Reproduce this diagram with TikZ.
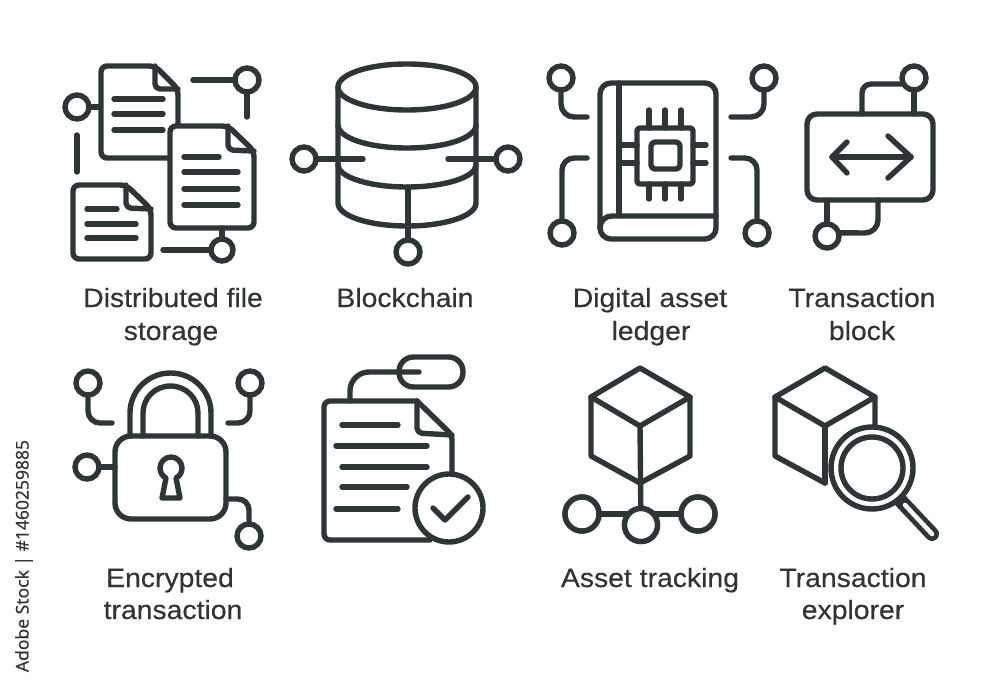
\documentclass[tikz,border=0pt]{standalone}
\usepackage{fontspec}
\setmainfont{Noto Sans}
\newfontfamily\labfont[FakeBold=0.3,FakeStretch=1.07]{Liberation Sans}
\newfontfamily\markfont[FakeBold=0.15]{Noto Sans}
\definecolor{ink}{HTML}{2E3536}
\definecolor{txt}{HTML}{303435}
\tikzset{
  ln/.style={draw=ink,line width=5.4pt,line cap=round,line join=round},
  rc/.style={ln,rounded corners=#1},
  port/.style={circle,draw=ink,line width=5.4pt,fill=white,inner sep=0pt,outer sep=0pt,minimum size=#1},
  lab/.style={text=txt,inner sep=0pt,anchor=base,font=\labfont\fontsize{26.5}{30}\selectfont},
  stockmark/.style={text=txt,inner sep=0pt,rotate=90,font=\markfont\fontsize{17.5}{20}\selectfont}
}
\begin{document}
\begin{tikzpicture}[x=1pt,y=-1pt]
\useasboundingbox (0,0) rectangle (1000,688);
\fill[white] (0,0) rectangle (1000,688);

% --- Distributed file storage
\node[port=24pt] (a1) at (77,107) {};
\node[port=24pt] (a2) at (247,80) {};
\node[port=22pt] (a3) at (222,250) {};
\draw[ln] (a1) -- (101,107);
\draw[ln] (193,80) -- (a2);
\draw[ln] (a2) -- (247,117);
\draw[ln] (77,135) -- (77,172);
\draw[rc=6pt,fill=white] (172,158) -- (101,158) -- (101,66) -- (155,66) -- (178,89) -- (178,124);
\draw[rc=5pt] (155,66) -- (155,89) -- (178,89);
\draw[ln] (114,99) -- (163,99) (114,114) -- (163,114) (114,130) -- (163,130);
\draw[rc=6pt,fill=white] (170,126) -- (228,126) -- (254,151) -- (254,228) -- (170,228) -- cycle;
\draw[rc=5pt] (228,126) -- (228,150) -- (254,151);
\draw[ln] (184,157) -- (219,157) (184,172) -- (238,172) (184,189) -- (238,189) (184,205) -- (238,205);
\draw[rc=6pt] (73,185) -- (126,185) -- (151,209) -- (151,259) -- (73,259) -- cycle;
\draw[rc=5pt] (126,185) -- (126,208) -- (151,209);
\draw[ln] (87,209) -- (117,209) (87,224) -- (136,224) (87,238) -- (136,238);
\draw[ln] (222,228) -- (a3);
\draw[ln] (163,250) -- (a3);

% --- Blockchain
\node[port=24pt] (b1) at (304,159) {};
\node[port=24pt] (b2) at (508,159) {};
\node[port=24pt] (b3) at (408,252) {};
\draw[ln] (338,87) .. controls (338,74) and (369,64) .. (407,64) .. controls (445,64) and (476,74) .. (476,87) .. controls (476,100) and (445,110) .. (407,110) .. controls (369,110) and (338,100) .. (338,87) -- cycle;
\draw[ln] (338,87) -- (338,203) .. controls (338,216) and (369,226) .. (407,226) .. controls (445,226) and (476,216) .. (476,203) -- (476,87);
\draw[ln] (338,125) .. controls (338,138) and (369,148) .. (407,148) .. controls (445,148) and (476,138) .. (476,125);
\draw[ln] (338,165) .. controls (338,177) and (369,187) .. (407,187) .. controls (445,187) and (476,177) .. (476,165);
\draw[ln] (b1) -- (363,159);
\draw[ln] (448,159) -- (b2);
\draw[ln] (408,187) -- (b3);

% --- Digital asset ledger
\node[port=24pt] (c1) at (561,78) {};
\node[port=24pt] (c2) at (764,78) {};
\node[port=24pt] (c3) at (562,233) {};
\node[port=24pt] (c4) at (757,233) {};
\draw[rc=13pt] (c1) -- (561,117) -- (587,117);
\draw[rc=13pt] (c2) -- (764,117) -- (731,117);
\draw[rc=12pt] (c3) -- (562,158) -- (587,158);
\draw[rc=12pt] (c4) -- (757,158) -- (731,158);
\draw[rc=11pt] (600,83) rectangle (716,239);
\draw[ln] (619,83) -- (619,216);
\draw[ln] (716,216) -- (612,216) .. controls (605,216) and (600,221) .. (600,228);
\draw[rc=3pt] (637,128) rectangle (693,184);
\draw[rc=4pt] (651,142) rectangle (680,169);
\draw[ln] (649,128) -- (649,110) (665,128) -- (665,110) (681,128) -- (681,110);
\draw[ln] (649,184) -- (649,199) (665,184) -- (665,199) (681,184) -- (681,199);
\draw[ln] (619,145) -- (637,145) (619,163) -- (637,163);
\draw[ln] (693,145) -- (706,145) (693,163) -- (706,163);

% --- Transaction block
\node[port=24pt] (d1) at (914,78) {};
\node[port=24pt] (d2) at (827,236) {};
\draw[rc=10pt] (807,114) rectangle (933,200);
\draw[ln] (d1) -- (914,114);
\draw[rc=9pt] (d1.210) -- (862,84) -- (862,114);
\draw[ln] (827,200) -- (d2);
\draw[rc=13pt] (d2.15) -- (878,233) -- (878,200);
\draw[ln] (832,157) -- (911,157);
\draw[ln] (847,142) -- (832,157) -- (847,173);
\draw[ln] (888,136) -- (911,157) -- (888,178);

% --- Encrypted transaction
\node[port=24pt] (e1) at (88,383) {};
\node[port=24pt] (e2) at (250,383) {};
\node[port=24pt] (e3) at (87,467) {};
\node[port=24pt] (e4) at (249,536) {};
\draw[ln] (130,436) -- (130,413) .. controls (130,391) and (148,373) .. (170.5,373) .. controls (193,373) and (211,391) .. (211,413) -- (211,436);
\draw[ln] (143,436) -- (143,413) .. controls (143,398) and (155,386) .. (170.5,386) .. controls (186,386) and (198,398) .. (198,413) -- (198,436);
\draw[rc=16pt] (115,436) rectangle (226,519);
\draw[ln] (166,478) .. controls (162,476) and (160,472) .. (160,468) .. controls (160,462) and (165,457) .. (171,457) .. controls (177,457) and (182,462) .. (182,468) .. controls (182,472) and (180,476) .. (176,478) -- (180,498) -- (162,498) -- cycle;
\draw[rc=12pt] (e1) -- (88,423) -- (112,423);
\draw[rc=12pt] (e2) -- (250,423) -- (228,423);
\draw[ln] (e3) -- (115,467);
\draw[rc=11pt] (226,499) -- (249,499) -- (e4);

% --- Signed document
\node[draw=ink,line width=5.4pt,fill=white,rounded corners=14.5pt,inner sep=0pt,outer sep=0pt,minimum width=64pt,minimum height=30pt] (f1) at (431,372) {};
\draw[rc=19pt] (350,401) -- (350,372) -- (419,372);
\draw[rc=6pt] (417,401) -- (324,401) -- (324,540) -- (430,540);
\draw[rc=5pt] (417,401) -- (417,433) -- (452,435);
\draw[rc=5pt] (417,401) -- (452,435) -- (452,476);
\draw[ln] (342,425) -- (398,425) (336,446) -- (427,446) (342,467) -- (427,467) (342,487) -- (407,487) (336,509) -- (398,509);
\node[port=68pt] (f2) at (449,508) {};
\draw[ln] (433,508) -- (445,520) -- (468,497);

% --- Asset tracking
\node[port=34pt] (g1) at (582,514) {};
\node[port=33pt] (g2) at (641,525) {};
\node[port=34pt] (g3) at (698,514) {};
\draw[ln] (640,368) -- (690,397) -- (690,456) -- (640,483) -- (591,456) -- (591,397) -- cycle;
\draw[ln] (591,397) -- (640,426) -- (690,397);
\draw[ln] (640,426) -- (g2);
\draw[ln] (g1) -- (g3);
\node[port=33pt] at (641,525) {};
\node[port=34pt] at (582,514) {};
\node[port=34pt] at (698,514) {};

% --- Transaction explorer
\draw[ln] (875,430) -- (875,397) -- (825,368) -- (775,397) -- (775,456) -- (825,483);
\draw[ln] (775,397) -- (825,426) -- (875,397);
\draw[ln] (825,426) -- (825,483);
\draw[draw=ink,line width=14pt,line cap=round] (900,500) -- (932,534);
\draw[draw=white,line width=4.5pt,line cap=round] (905,505) -- (932,534);
\node[port=82pt] (h1) at (872,468) {};
\node[port=62pt] (h2) at (872,468) {};

% --- Labels
\node[lab] (t1) at (173,307) {Distributed file};
\node[lab] (t2) at (171,340) {storage};
\node[lab] (t3) at (405,307) {Blockchain};
\node[lab] (t4) at (650,307) {Digital asset};
\node[lab] (t5) at (651,340) {ledger};
\node[lab] (t6) at (862,307) {Transaction};
\node[lab] (t7) at (862,340) {block};
\node[lab] (t8) at (170,587) {Encrypted};
\node[lab] (t9) at (173,619) {transaction};
\node[lab] (t10) at (650,587) {Asset tracking};
\node[lab] (t11) at (853,587) {Transaction};
\node[lab] (t12) at (853,619) {explorer};
\node[stockmark] (t13) at (24,556) {Adobe Stock | \#1460259885};
\end{tikzpicture}
\end{document}
